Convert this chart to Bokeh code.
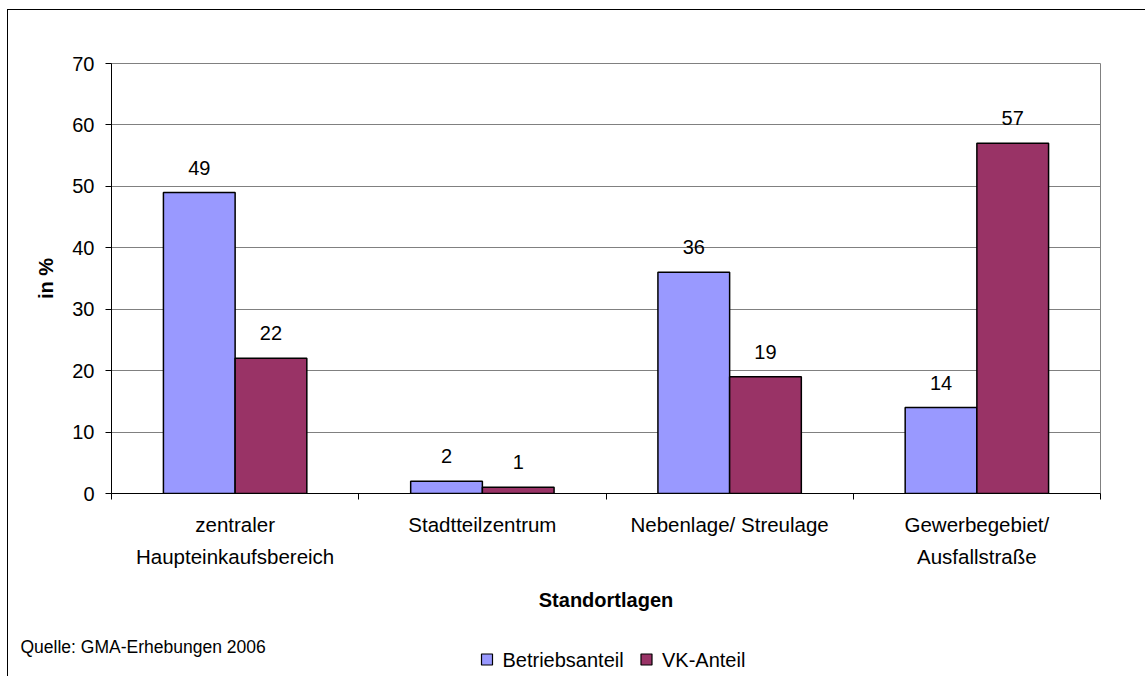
from bokeh.plotting import figure
from bokeh.layouts import column
from bokeh.models import FixedTicker, Range1d, ColumnDataSource
from bokeh.core.properties import value
from bokeh.embed import file_html
from bokeh.resources import INLINE

# Shares of businesses and sales area by location type (in %)
categories = ["zentraler\nHaupteinkaufsbereich", "Stadtteilzentrum",
              "Nebenlage/ Streulage", "Gewerbegebiet/\nAusfallstraße"]
betriebsanteil = [49, 2, 36, 14]
vk_anteil = [22, 1, 19, 57]
series_names = ["Betriebsanteil", "VK-Anteil"]
y_ticks = [0, 10, 20, 30, 40, 50, 60, 70]
source_note = "Quelle: GMA-Erhebungen 2006"

FONT = "Liberation Sans"
BLUE = "#9999FF"
MAROON = "#993366"
W = 1138

centers = [i + 0.5 for i in range(len(categories))]
bar_w = 0.29
src_b = ColumnDataSource(dict(x=[c - bar_w / 2 for c in centers], top=betriebsanteil,
                              lbl=[str(v) for v in betriebsanteil]))
src_v = ColumnDataSource(dict(x=[c + bar_w / 2 for c in centers], top=vk_anteil,
                              lbl=[str(v) for v in vk_anteil]))

p = figure(width=W, height=615, output_backend="svg", toolbar_location=None,
           x_range=Range1d(0, len(categories)), y_range=Range1d(0, 70),
           min_border_left=103, min_border_right=46, min_border_top=53,
           min_border_bottom=132)
p.frame_align = False
p.outline_line_color = "#808080"
p.outline_line_width = 1

p.vbar(x="x", top="top", width=bar_w, source=src_b, fill_color=BLUE,
       line_color="black", line_width=1.5)
p.vbar(x="x", top="top", width=bar_w, source=src_v, fill_color=MAROON,
       line_color="black", line_width=1.5)

# value labels above the bars
for src in (src_b, src_v):
    p.text(x="x", y="top", text="lbl", source=src, text_align="center",
           text_baseline="middle", y_offset=-25, text_font_size="20px",
           text_color="black", text_font=value(FONT))

# y axis
p.yaxis.ticker = FixedTicker(ticks=y_ticks)
p.yaxis.axis_label = "in %"
p.yaxis.axis_label_text_font = FONT
p.yaxis.axis_label_text_font_style = "bold"
p.yaxis.axis_label_text_font_size = "20px"
p.yaxis.axis_label_text_color = "black"
p.yaxis.axis_label_standoff = 12
p.yaxis.major_label_text_font = FONT
p.yaxis.major_label_text_font_size = "20px"
p.yaxis.major_label_text_color = "black"
p.yaxis.major_label_standoff = 11
p.yaxis.major_tick_out = 6
p.yaxis.major_tick_in = 0
p.yaxis.minor_tick_out = 0
p.yaxis.axis_line_color = "black"
p.yaxis.major_tick_line_color = "black"

# x axis: labels centred in each category, ticks on the category borders
p.xaxis.ticker = FixedTicker(ticks=centers, minor_ticks=list(range(len(categories) + 1)))
p.xaxis.major_label_overrides = {c: lab for c, lab in zip(centers, categories)}
p.xaxis.major_tick_out = 0
p.xaxis.major_tick_in = 0
p.xaxis.minor_tick_out = 6
p.xaxis.minor_tick_in = 0
p.xaxis.minor_tick_line_color = "black"
p.xaxis.axis_line_color = "black"
p.xaxis.major_label_text_font = FONT
p.xaxis.major_label_text_font_size = "20.5px"
p.xaxis.major_label_text_color = "black"
p.xaxis.major_label_text_line_height = 1.4
p.xaxis.major_label_standoff = 13
p.xaxis.axis_label = "Standortlagen"
p.xaxis.axis_label_text_font = FONT
p.xaxis.axis_label_text_font_style = "bold"
p.xaxis.axis_label_text_font_size = "20px"
p.xaxis.axis_label_text_color = "black"
p.xaxis.axis_label_standoff = 18

p.xgrid.grid_line_color = None
p.ygrid.grid_line_color = "#808080"
p.ygrid.grid_line_width = 1

# footer strip: source note and legend, in pixel-like coordinates
H2 = 51
f = figure(width=W, height=H2, output_backend="svg", toolbar_location=None,
           x_range=Range1d(0, W), y_range=Range1d(0, H2),
           min_border_left=0, min_border_right=0, min_border_top=0,
           min_border_bottom=0)
f.frame_align = False
f.axis.visible = False
f.grid.grid_line_color = None
f.outline_line_color = None

f.text(x=[12], y=[30], text=[source_note], text_align="left", text_baseline="middle",
       text_font=value(FONT), text_font_size="17.5px", text_color="black")

key_x = [478.5, 638]
f.rect(x=key_x, y=[17, 17], width=11, height=11, fill_color=[BLUE, MAROON],
       line_color="black", line_width=1.2)
f.text(x=[k + 15.5 for k in key_x], y=[17, 17], text=series_names, text_align="left",
       text_baseline="middle", text_font=value(FONT), text_font_size="20px",
       text_color="black")

layout = column(p, f, spacing=0, margin=(9, 0, 0, 7),
                styles={"border-top": "1px solid black", "border-left": "1px solid black"})

open("out.html", "w").write(file_html(layout, INLINE))
